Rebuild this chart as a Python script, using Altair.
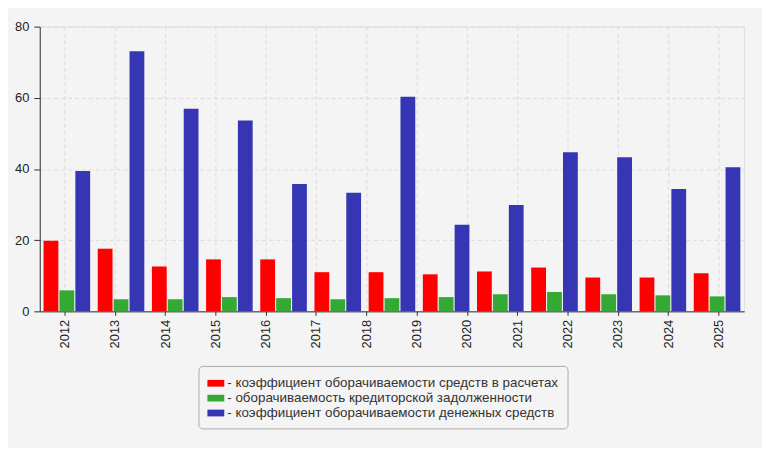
import altair as alt
import pandas as pd

# ---- data ----
years = ["2012", "2013", "2014", "2015", "2016", "2017", "2018",
         "2019", "2020", "2021", "2022", "2023", "2024", "2025"]
periods = years[:13]  # the reference draws 13 bar groups under 14 year labels

series = [
    "коэффициент оборачиваемости средств в расчетах",
    "оборачиваемость кредиторской задолженности",
    "коэффициент оборачиваемости денежных средств",
]
red_vals = [19.8, 17.6, 12.6, 14.6, 14.6, 11.0, 11.0, 10.4, 11.2, 12.3, 9.5, 9.5, 10.7]
green_vals = [5.9, 3.4, 3.4, 4.0, 3.7, 3.4, 3.7, 4.0, 4.8, 5.4, 4.8, 4.5, 4.2]
blue_vals = [39.4, 73.1, 56.9, 53.6, 35.8, 33.3, 60.3, 24.3, 29.9, 44.7, 43.3, 34.4, 40.5]
y_ticks = [0, 20, 40, 60, 80]

palette = ["#FF0000", "#34AA34", "#3636B4"]

rows = []
for s, vals in zip(series, [red_vals, green_vals, blue_vals]):
    for p, v in zip(periods, vals):
        rows.append({"period": p, "series": s, "value": v})
df = pd.DataFrame(rows)
labels_df = pd.DataFrame({"label": years})

FONT = "Liberation Sans"

rules = alt.Chart(labels_df).mark_rule(color="#dcdcdc", strokeDash=[4, 3], strokeWidth=1).encode(
    x=alt.X(
        "label:N",
        sort=years,
        scale=alt.Scale(paddingInner=0, paddingOuter=0),
        axis=alt.Axis(
            orient="bottom", title=None, labelAngle=-90, grid=False,
            domainColor="#333333", tickColor="#333333", tickSize=4,
            labelFontSize=13, labelColor="#222222", labelPadding=4,
            bandPosition=0.5, labelFont=FONT,
        ),
    )
)

bars = alt.Chart(df).mark_bar().encode(
    x=alt.X("period:N", sort=periods, axis=None,
            scale=alt.Scale(paddingInner=0.14, paddingOuter=0.07)),
    xOffset=alt.XOffset("series:N", sort=series,
                        scale=alt.Scale(domain=series, paddingInner=0.07, paddingOuter=0)),
    y=alt.Y(
        "value:Q",
        scale=alt.Scale(domain=[0, 80], nice=False),
        axis=alt.Axis(
            values=y_ticks, title=None, grid=True, gridDash=[4, 3], gridColor="#dcdcdc",
            domainColor="#333333", tickColor="#333333", tickSize=6,
            labelFontSize=13, labelColor="#222222", labelPadding=5, labelFont=FONT,
        ),
    ),
    color=alt.Color(
        "series:N",
        scale=alt.Scale(domain=series, range=palette),
        legend=alt.Legend(
            orient="none", legendX=160, legendY=342, title=None, direction="vertical",
            padding=9, strokeColor="#aaaaaa", cornerRadius=4, fillColor="#F4F4F4",
            labelFontSize=13.5, labelColor="#333333", labelFont=FONT,
            labelExpr="'- ' + datum.label", labelLimit=600, labelOffset=3,
            symbolType="M-1,-0.4H1V0.4H-1Z", symbolSize=289, symbolStrokeWidth=0,
            symbolOpacity=1, rowPadding=0,
        ),
    ),
)

chart = (
    alt.layer(rules, bars)
    .resolve_scale(x="independent")
    .properties(
        width=710, height=287,
        autosize=alt.AutoSizeParams(type="none"),
        padding={"left": 32, "top": 17, "right": 18, "bottom": 136},
        background="#F4F4F4",
    )
    .configure_view(stroke="#dcdcdc", strokeWidth=1, fill="#FBFBF4")
    .configure(font=FONT)
)

chart.save("out.html", embed_options={"renderer": "svg", "actions": False})
